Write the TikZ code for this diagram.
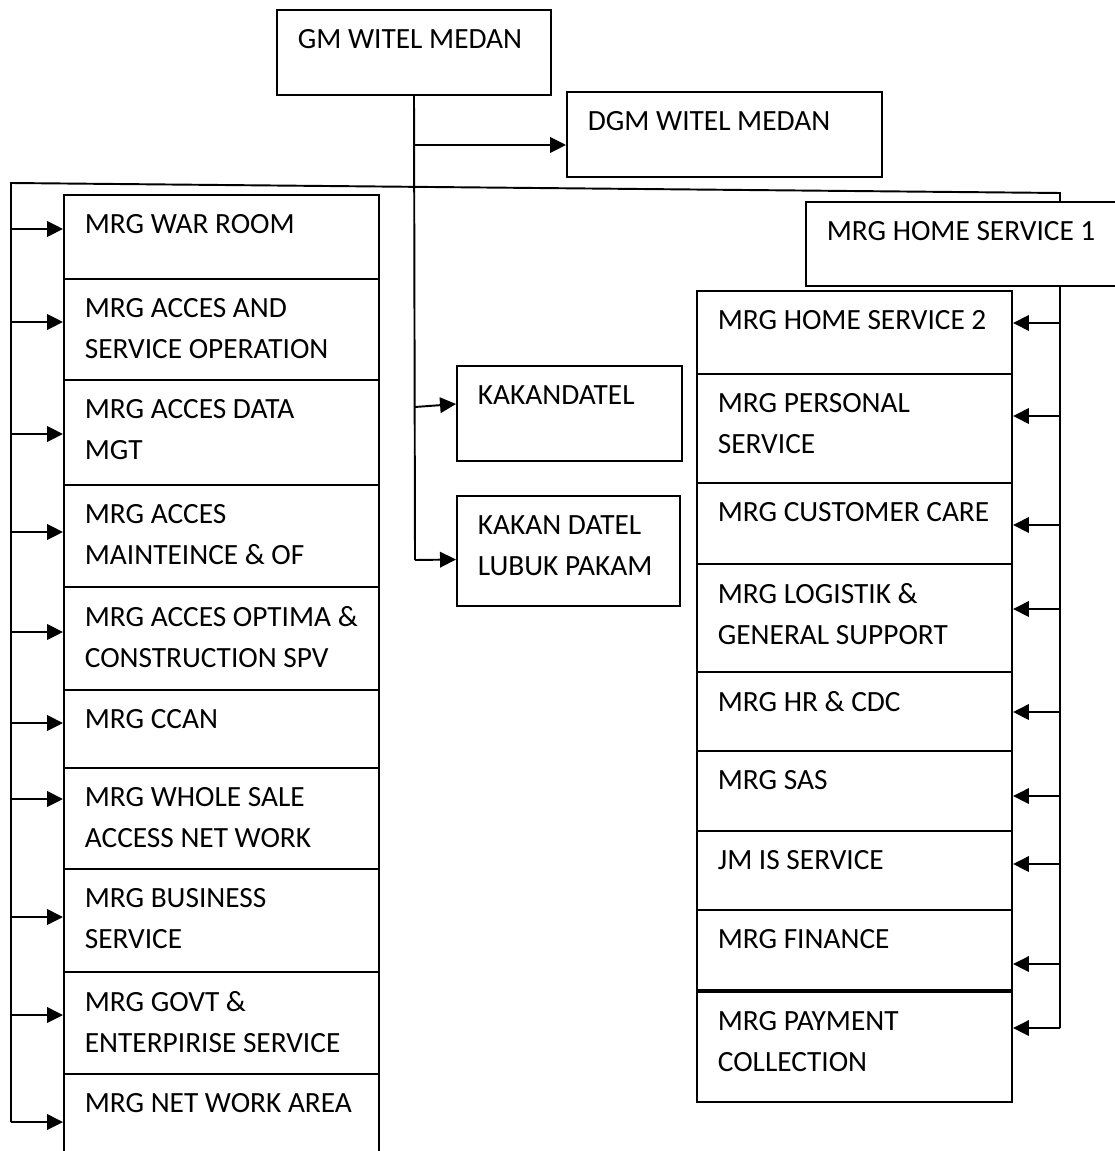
\documentclass[tikz,border=0pt]{standalone}
\usepackage{fontspec}
\setmainfont{Carlito}
\usetikzlibrary{arrows.meta,fit}

\newcommand{\orgunit}[6]{%
\node[unit,fit={(#2,#3) (#4,#5)}](#1){};
\node[unittext](#1-label)at(#1.north west){#6};}

\begin{document}
\begin{tikzpicture}[x=0.02cm,y=-0.02cm,
unit/.style={draw,line width=1.1pt,fill=white,inner sep=0pt},
unittext/.style={anchor=north west,inner sep=0pt,align=left,xshift=0.43cm,yshift=-0.41cm,font=\fontsize{16.7}{23.3}\selectfont},
bus/.style={line width=1.1pt},
link/.style={line width=1.1pt,-{Triangle[length=0.32cm,width=0.31cm]}}]
\useasboundingbox(0,0)rectangle(1114,1151);
% lines behind the boxes
\draw[bus](11,1122)coordinate(lbot)--(11,183)coordinate(ltop)--(1060,193)coordinate(rtop)--(1060,1028)coordinate(rbot);
% top
\orgunit{gm}{277}{10}{551}{95}{GM WITEL MEDAN}
\orgunit{dgm}{567}{92}{882}{177}{DGM WITEL MEDAN}
\orgunit{hs1}{806}{202}{1130}{286}{MRG HOME SERVICE 1}
\draw[bus](gm.south)--(415,560)coordinate(tend);
\draw[link](415,145)coordinate(td)--(td-|dgm.west);
% middle
\orgunit{kak}{457}{366}{682}{461}{KAKANDATEL}
\orgunit{lub}{457}{496}{680}{606}{KAKAN DATEL\\LUBUK PAKAM}
\draw[link](415,407)coordinate(tk)--([yshift=0.19cm]kak.west);
\draw[link](tend)--([yshift=-0.17cm]lub.west);
% left column
\orgunit{war}{64}{195}{379}{279}{MRG WAR ROOM}
\orgunit{aso}{64}{279}{379}{380}{MRG ACCES AND\\SERVICE OPERATION}
\orgunit{adm}{64}{380}{379}{485}{MRG ACCES DATA\\MGT}
\orgunit{amo}{64}{485}{379}{587}{MRG ACCES\\MAINTEINCE \& OF}
\orgunit{aoc}{64}{587}{379}{690}{MRG ACCES OPTIMA \&\\CONSTRUCTION SPV}
\orgunit{ccan}{64}{690}{379}{768}{MRG CCAN}
\orgunit{wsa}{64}{768}{379}{869}{MRG WHOLE SALE\\ACCESS NET WORK}
\orgunit{bis}{64}{869}{379}{972}{MRG BUSINESS\\SERVICE}
\orgunit{ges}{64}{972}{379}{1074}{MRG GOVT \&\\ENTERPIRISE SERVICE}
\orgunit{nwa}{64}{1074}{379}{1170}{MRG NET WORK AREA}
\draw[link](11,229)coordinate(l1)--(l1-|war.west);
\draw[link](11,322)coordinate(l2)--(l2-|aso.west);
\draw[link](11,434)coordinate(l3)--(l3-|adm.west);
\draw[link](11,532)coordinate(l4)--(l4-|amo.west);
\draw[link](11,632)coordinate(l5)--(l5-|aoc.west);
\draw[link](11,723)coordinate(l6)--(l6-|ccan.west);
\draw[link](11,799)coordinate(l7)--(l7-|wsa.west);
\draw[link](11,917)coordinate(l8)--(l8-|bis.west);
\draw[link](11,1015)coordinate(l9)--(l9-|ges.west);
\draw[link](lbot)--(lbot-|nwa.west);
% right column
\orgunit{hs2}{697}{291}{1012}{374}{MRG HOME SERVICE 2}
\orgunit{pers}{697}{374}{1012}{483}{MRG PERSONAL\\SERVICE}
\orgunit{cc}{697}{483}{1012}{564}{MRG CUSTOMER CARE}
\orgunit{log}{697}{564}{1012}{672}{MRG LOGISTIK \&\\GENERAL SUPPORT}
\orgunit{hr}{697}{672}{1012}{751}{MRG HR \& CDC}
\orgunit{sas}{697}{751}{1012}{831}{MRG SAS}
\orgunit{jm}{697}{831}{1012}{910}{JM IS SERVICE}
\orgunit{fin}{697}{910}{1012}{990}{MRG FINANCE}
\orgunit{pay}{697}{992}{1012}{1102}{MRG PAYMENT\\COLLECTION}
\draw[link](1060,323)coordinate(r1)--(r1-|hs2.east);
\draw[link](1060,416)coordinate(r2)--(r2-|pers.east);
\draw[link](1060,525)coordinate(r3)--(r3-|cc.east);
\draw[link](1060,609)coordinate(r4)--(r4-|log.east);
\draw[link](1060,712)coordinate(r5)--(r5-|hr.east);
\draw[link](1060,796)coordinate(r6)--(r6-|sas.east);
\draw[link](1060,864)coordinate(r7)--(r7-|jm.east);
\draw[link](1060,964)coordinate(r8)--(r8-|fin.east);
\draw[link](rbot)--(rbot-|pay.east);
\end{tikzpicture}
\end{document}
